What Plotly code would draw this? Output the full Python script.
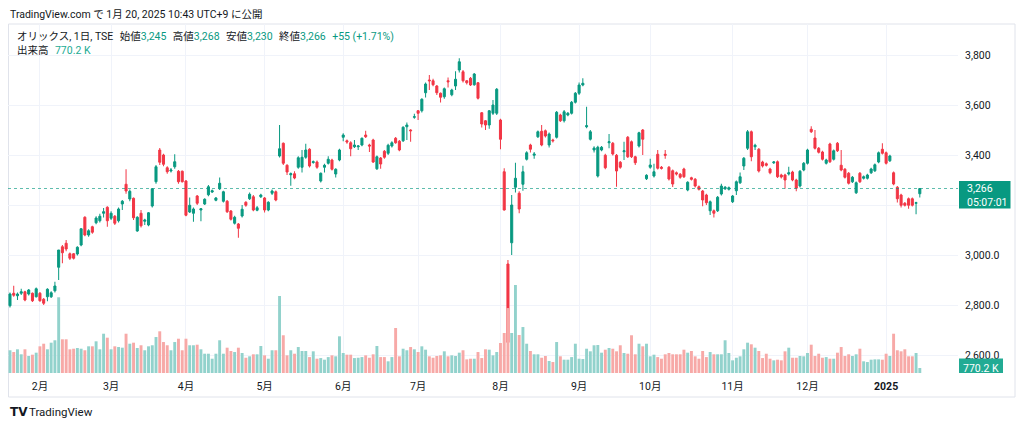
import pandas as pd
import plotly.graph_objects as go

# ---------------- data ----------------
START_DATE = "2024-01-22"
END_DATE = "2025-01-20"
HOLIDAYS = ["2024-02-12", "2024-02-23", "2024-03-20", "2024-04-29", "2024-05-03",
            "2024-05-06", "2024-07-15", "2024-08-12", "2024-09-16", "2024-09-23",
            "2024-10-14", "2024-11-04", "2024-12-31", "2025-01-01", "2025-01-02",
            "2025-01-03", "2025-01-13"]
MONTH_LABELS = ["2月", "3月", "4月", "5月", "6月", "7月", "8月", "9月", "10月",
                "11月", "12月", "<b>2025</b>"]

OPEN = [2797, 2847, 2837, 2847, 2853, 2844, 2847, 2833, 2847, 2823,
        2833, 2833, 2857, 2951, 3033, 3047, 3005, 3005, 3004, 3040,
        3151, 3080, 3113, 3129, 3137, 3167, 3191, 3147, 3155, 3137,
        3204, 3283, 3224, 3227, 3096, 3167, 3135, 3120, 3196, 3293,
        3420, 3400, 3349, 3336, 3353, 3335, 3335, 3296, 3172, 3167,
        3236, 3180, 3204, 3241, 3252, 3219, 3265, 3215, 3215, 3176,
        3127, 3124, 3156, 3211, 3225, 3233, 3179, 3233, 3228, 3180,
        3247, 3253, 3396, 3447, 3359, 3321, 3325, 3351, 3351, 3391,
        3423, 3370, 3372, 3296, 3351, 3367, 3380, 3324, 3380, 3471,
        3457, 3449, 3433, 3433, 3440, 3480, 3440, 3460, 3345, 3388,
        3415, 3407, 3436, 3467, 3455, 3457, 3513, 3500, 3551, 3577,
        3577, 3649, 3700, 3697, 3676, 3647, 3633, 3697, 3641, 3676,
        3740, 3733, 3697, 3707, 3681, 3689, 3569, 3537, 3520, 3567,
        3567, 3540, 3333, 2964, 3049, 3271, 3247, 3283, 3383, 3440,
        3399, 3473, 3495, 3497, 3440, 3460, 3471, 3560, 3537, 3560,
        3567, 3611, 3647, 3680, 3513, 3463, 3420, 3316, 3420, 3399,
        3449, 3447, 3399, 3371, 3413, 3471, 3453, 3393, 3436, 3500,
        3305, 3351, 3316, 3403, 3351, 3403, 3351, 3337, 3329, 3323,
        3344, 3260, 3309, 3303, 3273, 3256, 3240, 3177, 3177, 3177,
        3244, 3265, 3263, 3213, 3257, 3289, 3356, 3427, 3493, 3433,
        3423, 3372, 3365, 3344, 3369, 3373, 3320, 3320, 3324, 3332,
        3300, 3276, 3340, 3367, 3503, 3468, 3427, 3412, 3367, 3444,
        3383, 3447, 3359, 3343, 3327, 3293, 3249, 3327, 3307, 3307,
        3329, 3337, 3372, 3423, 3409, 3377, 3329, 3271, 3240, 3207,
        3225, 3225, 3207, 3245]

HIGH = [2850, 2877, 2850, 2865, 2857, 2864, 2850, 2870, 2852, 2828,
        2867, 2855, 2893, 3020, 3040, 3060, 3010, 3008, 3035, 3108,
        3155, 3103, 3117, 3155, 3165, 3188, 3195, 3175, 3160, 3190,
        3220, 3343, 3262, 3230, 3155, 3180, 3145, 3172, 3268, 3360,
        3428, 3405, 3355, 3348, 3403, 3340, 3338, 3300, 3230, 3190,
        3240, 3188, 3227, 3280, 3262, 3232, 3310, 3257, 3220, 3180,
        3157, 3128, 3200, 3215, 3250, 3240, 3196, 3245, 3232, 3215,
        3262, 3258, 3520, 3450, 3363, 3330, 3335, 3395, 3420, 3445,
        3427, 3378, 3378, 3330, 3365, 3395, 3385, 3347, 3425, 3487,
        3462, 3455, 3460, 3440, 3470, 3497, 3445, 3465, 3398, 3392,
        3420, 3445, 3455, 3472, 3460, 3515, 3530, 3503, 3565, 3580,
        3627, 3690, 3720, 3705, 3680, 3650, 3670, 3710, 3665, 3735,
        3787, 3740, 3700, 3712, 3728, 3692, 3572, 3540, 3580, 3620,
        3668, 3545, 3347, 2980, 3240, 3369, 3255, 3357, 3415, 3445,
        3412, 3498, 3520, 3502, 3490, 3465, 3576, 3565, 3580, 3572,
        3616, 3652, 3690, 3707, 3593, 3500, 3435, 3437, 3436, 3405,
        3484, 3452, 3404, 3376, 3453, 3476, 3458, 3397, 3493, 3504,
        3323, 3385, 3365, 3420, 3356, 3420, 3356, 3342, 3334, 3328,
        3349, 3295, 3313, 3308, 3278, 3260, 3245, 3218, 3182, 3236,
        3285, 3276, 3274, 3240, 3298, 3330, 3392, 3500, 3498, 3445,
        3428, 3377, 3370, 3349, 3376, 3378, 3325, 3325, 3353, 3337,
        3305, 3340, 3372, 3425, 3515, 3500, 3432, 3417, 3385, 3449,
        3422, 3452, 3420, 3348, 3332, 3316, 3294, 3332, 3318, 3325,
        3349, 3366, 3414, 3447, 3414, 3401, 3334, 3276, 3245, 3212,
        3230, 3230, 3213, 3268]

LOW = [2790, 2833, 2820, 2840, 2815, 2838, 2812, 2830, 2813, 2800,
       2815, 2828, 2850, 2900, 2967, 3015, 2980, 2982, 2998, 3035,
       3075, 3073, 3085, 3123, 3130, 3150, 3113, 3140, 3120, 3130,
       3180, 3245, 3215, 3140, 3093, 3110, 3120, 3115, 3190, 3285,
       3360, 3355, 3325, 3330, 3345, 3285, 3290, 3155, 3168, 3133,
       3200, 3135, 3200, 3235, 3248, 3215, 3260, 3210, 3168, 3138,
       3122, 3069, 3150, 3193, 3220, 3175, 3175, 3228, 3170, 3175,
       3240, 3215, 3390, 3360, 3320, 3277, 3303, 3345, 3330, 3385,
       3350, 3365, 3345, 3290, 3330, 3362, 3338, 3310, 3375, 3455,
       3445, 3395, 3428, 3420, 3435, 3468, 3412, 3368, 3340, 3345,
       3385, 3400, 3430, 3445, 3415, 3452, 3460, 3453, 3545, 3540,
       3570, 3630, 3660, 3675, 3640, 3610, 3625, 3670, 3635, 3660,
       3730, 3690, 3682, 3676, 3677, 3622, 3510, 3500, 3505, 3560,
       3560, 3423, 3178, 2640, 3000, 3250, 3167, 3257, 3378, 3410,
       3385, 3468, 3435, 3470, 3430, 3450, 3466, 3532, 3530, 3555,
       3562, 3606, 3640, 3675, 3507, 3458, 3410, 3310, 3415, 3343,
       3427, 3398, 3273, 3345, 3380, 3388, 3388, 3360, 3430, 3400,
       3300, 3345, 3310, 3342, 3342, 3385, 3298, 3272, 3318, 3305,
       3308, 3255, 3298, 3270, 3258, 3195, 3200, 3160, 3150, 3172,
       3238, 3260, 3258, 3208, 3240, 3284, 3340, 3420, 3375, 3420,
       3330, 3350, 3354, 3323, 3364, 3308, 3306, 3265, 3318, 3295,
       3255, 3270, 3335, 3362, 3488, 3422, 3406, 3378, 3362, 3368,
       3378, 3412, 3335, 3306, 3282, 3288, 3244, 3288, 3302, 3302,
       3324, 3332, 3367, 3402, 3362, 3372, 3279, 3210, 3190, 3194,
       3185, 3194, 3163, 3230]

CLOSE = [2844, 2839, 2844, 2853, 2820, 2860, 2817, 2865, 2817, 2807,
         2863, 2849, 2876, 3020, 3009, 3024, 2987, 2987, 3031, 3105,
         3080, 3097, 3091, 3148, 3155, 3173, 3137, 3167, 3127, 3184,
         3215, 3256, 3255, 3149, 3151, 3117, 3140, 3169, 3265, 3353,
         3371, 3363, 3333, 3340, 3373, 3293, 3293, 3159, 3199, 3184,
         3207, 3185, 3223, 3273, 3257, 3228, 3287, 3253, 3173, 3143,
         3151, 3107, 3183, 3199, 3243, 3180, 3189, 3240, 3180, 3211,
         3256, 3220, 3425, 3367, 3332, 3325, 3308, 3389, 3391, 3420,
         3356, 3373, 3351, 3327, 3359, 3383, 3343, 3343, 3420, 3480,
         3452, 3425, 3440, 3436, 3467, 3473, 3436, 3372, 3393, 3364,
         3391, 3439, 3449, 3449, 3420, 3511, 3520, 3497, 3553, 3567,
         3623, 3684, 3697, 3681, 3649, 3631, 3665, 3693, 3660, 3703,
         3773, 3697, 3689, 3680, 3724, 3627, 3524, 3520, 3577, 3600,
         3663, 3463, 3180, 2650, 3200, 3307, 3184, 3333, 3409, 3423,
         3404, 3493, 3440, 3476, 3484, 3457, 3571, 3537, 3573, 3567,
         3611, 3647, 3680, 3687, 3517, 3493, 3428, 3431, 3431, 3349,
         3453, 3404, 3336, 3351, 3417, 3393, 3393, 3369, 3489, 3463,
         3319, 3360, 3333, 3347, 3347, 3399, 3304, 3284, 3324, 3311,
         3313, 3291, 3303, 3276, 3263, 3220, 3209, 3213, 3167, 3231,
         3276, 3271, 3269, 3236, 3293, 3313, 3387, 3493, 3393, 3439,
         3336, 3356, 3359, 3329, 3372, 3313, 3312, 3300, 3329, 3300,
         3267, 3335, 3367, 3420, 3493, 3427, 3411, 3383, 3380, 3373,
         3417, 3417, 3340, 3311, 3287, 3311, 3289, 3293, 3313, 3320,
         3344, 3361, 3409, 3407, 3367, 3396, 3284, 3225, 3199, 3199,
         3199, 3199, 3209, 3266]

VOLUME_K = [3500, 3230, 3650, 2880, 3650, 2620, 2820, 3130, 4110, 4510,
            3650, 4670, 5040, 11660, 5190, 5190, 3650, 3740, 3850, 3740,
            3500, 4110, 4110, 4880, 3650, 6050, 5440, 3650, 4110, 4000,
            3900, 6050, 4510, 4670, 3850, 4270, 3500, 4110, 4270, 5540,
            6420, 4770, 4270, 3500, 4770, 5280, 3500, 5280, 4270, 4270,
            4360, 3650, 2970, 2970, 2200, 2970, 5040, 2970, 3900, 3390,
            3230, 3900, 3080, 2350, 2570, 2880, 2880, 4160, 2720, 2200,
            3500, 3500, 11860, 5810, 2720, 3500, 2970, 4000, 3390, 3390,
            2450, 3340, 2200, 2300, 2050, 2450, 2720, 2570, 5650, 3080,
            2820, 2820, 2300, 2350, 2450, 2720, 2350, 2880, 4160, 2450,
            2450, 1800, 2450, 6930, 2570, 3740, 3500, 4000, 3650, 3230,
            4110, 3590, 2570, 2350, 2620, 2720, 3340, 2570, 2720, 2620,
            3130, 3500, 2100, 2200, 2200, 3230, 2300, 3650, 3590, 2720,
            3230, 4620, 6160, 10000, 6160, 13550, 5850, 7080, 4510, 3390,
            2880, 2880, 2350, 2620, 1850, 1690, 4770, 2570, 2050, 2050,
            2450, 4510, 2200, 2150, 3740, 3340, 4270, 4310, 3130, 3590,
            3850, 3740, 3340, 4270, 3080, 2970, 5810, 2880, 4510, 4110,
            4510, 2570, 2820, 2450, 2200, 2880, 3080, 2880, 2880, 2880,
            3590, 3130, 3390, 2570, 2200, 3390, 2450, 3230, 2880, 2880,
            2880, 5040, 3080, 1950, 2350, 2570, 3650, 4670, 4420, 3900,
            3390, 2300, 2970, 2200, 1950, 2050, 1950, 3340, 3900, 2350,
            2350, 2620, 2570, 3080, 4360, 2620, 2970, 2350, 2450, 2200,
            2200, 3130, 4000, 2620, 2880, 2620, 2880, 3740, 1800, 1690,
            2050, 2100, 2100, 2050, 2970, 2620, 6050, 3500, 3340, 3650,
            2570, 2570, 3080, 770.2]

LAST_PRICE_TEXT = "3,266"
COUNTDOWN_TEXT = "05:07:01"
LAST_VOLUME_TEXT = "770.2 K"
PRICE_TICKS = [2600, 2800, 3000, 3200, 3400, 3600, 3800]
PRICE_TICK_TEXT = ["2,600.0", "2,800.0", "3,000.0", "", "3,400", "3,600", "3,800"]

# ---------------- derived ----------------
days = [d.strftime("%Y-%m-%d") for d in pd.bdate_range(START_DATE, END_DATE)]
X = [d for d in days if d not in HOLIDAYS]
assert len(X) == len(OPEN) == len(CLOSE) == len(HIGH) == len(LOW) == len(VOLUME_K)

month_ticks = []
for k in range(1, len(X)):
    if X[k][:7] != X[k - 1][:7]:
        month_ticks.append(X[k])

UP = "#089981"
DOWN = "#F23645"
VOL_UP = "#92D2CC"
VOL_DOWN = "#F7A9A7"
vol_colors = [VOL_UP if c >= o else VOL_DOWN for o, c in zip(OPEN, CLOSE)]

FONT = "Roboto, 'Noto Sans CJK JP', sans-serif"
TXT = "#131722"
GRID = "#f0f3fa"

# The page body adds an 8px margin, so the figure sits at page (8, 8).
OFF = 8
FIG_W, FIG_H = 1024 - 2 * OFF, 427 - 2 * OFF
# plot area in page pixels
PL, PR, PT, PB = 8, 958, 24, 373


def px_x(px):
    return (px - PL) / (PR - PL)


def px_y(py):
    return (PB - py) / (PB - PT)


fig = go.Figure()
fig.add_trace(go.Bar(
    x=X, y=[v * 1000 for v in VOLUME_K], marker=dict(color=vol_colors, line=dict(width=0)),
    width=0.78, yaxis="y2", hoverinfo="skip"))
fig.add_trace(go.Candlestick(
    x=X, open=OPEN, high=HIGH, low=LOW, close=CLOSE,
    increasing=dict(line=dict(color=UP, width=1), fillcolor=UP),
    decreasing=dict(line=dict(color=DOWN, width=1), fillcolor=DOWN),
    whiskerwidth=0, yaxis="y"))

last_close = CLOSE[-1]
last_vol = VOLUME_K[-1] * 1000

shapes = [
    # frame
    dict(type="rect", xref="paper", yref="paper", x0=px_x(8.5), x1=px_x(1015),
         y0=px_y(397), y1=px_y(24), line=dict(color="#e0e3eb", width=1), layer="below"),
    # last price dotted line
    dict(type="line", xref="paper", yref="y", x0=0, x1=1, y0=last_close, y1=last_close,
         line=dict(color="rgba(8,153,129,0.65)", width=1, dash="dot"), layer="above"),
    # last price box
    dict(type="rect", xref="paper", yref="y", x0=px_x(959), x1=px_x(1010.5),
         ysizemode="pixel", yanchor=last_close, y0=-20, y1=7.5,
         fillcolor=UP, line=dict(width=0), layer="above"),
    # volume box
    dict(type="rect", xref="paper", yref="y2", x0=px_x(959), x1=px_x(1003),
         ysizemode="pixel", yanchor=last_vol, y0=-9.5, y1=9.5,
         fillcolor="#22AB94", line=dict(width=0), layer="above"),
]

teal = "#089981"
GAP = "\u2002\u200a"


def tv(s):
    return f"<span style='color:{teal}'>{s}</span>"


legend_line = ("オリックス, 1日, TSE" + GAP + "始値" + tv("3,245") + GAP + "高値" + tv("3,268") +
               GAP + "安値" + tv("3,230") + GAP + "終値" + tv("3,266") + GAP +
               tv("+55 (+1.71%)"))

annotations = [
    dict(text="TradingView.com で 1月 20, 2025 10:43 UTC+9 に公開", xref="paper", yref="paper",
         x=px_x(8), y=px_y(14), xanchor="left", yanchor="middle", showarrow=False,
         font=dict(family=FONT, size=10.5, color=TXT)),
    dict(text=legend_line, xref="paper", yref="paper",
         x=px_x(15), y=px_y(36.5), xanchor="left", yanchor="middle", showarrow=False,
         font=dict(family=FONT, size=10.5, color=TXT)),
    dict(text="出来高" + GAP + "<span style='color:#22AB94'>" + LAST_VOLUME_TEXT + "</span>",
         xref="paper", yref="paper",
         x=px_x(15), y=px_y(51), xanchor="left", yanchor="middle", showarrow=False,
         font=dict(family=FONT, size=10.5, color=TXT)),
    dict(text=LAST_PRICE_TEXT, xref="paper", yref="y", x=px_x(965), y=last_close,
         xanchor="left", yanchor="middle", showarrow=False,
         font=dict(family=FONT, size=10.5, color="white")),
    dict(text=COUNTDOWN_TEXT, xref="paper", yref="y", x=px_x(965), y=last_close, yshift=-14,
         xanchor="left", yanchor="middle", showarrow=False,
         font=dict(family=FONT, size=10.5, color="white")),
    dict(text=LAST_VOLUME_TEXT, xref="paper", yref="y2", x=px_x(981), y=last_vol,
         xanchor="center", yanchor="middle", showarrow=False,
         font=dict(family=FONT, size=10.5, color="white")),
    dict(text="<b>TV</b>", xref="paper", yref="paper", x=px_x(8), y=px_y(412),
         xanchor="left", yanchor="middle", showarrow=False,
         font=dict(family="DejaVu Sans", size=12, color="#131722")),
    dict(text="TradingView", xref="paper", yref="paper", x=px_x(27), y=px_y(412),
         xanchor="left", yanchor="middle", showarrow=False,
         font=dict(family=FONT, size=11.5, color="#131722")),
]

fig.update_layout(
    width=FIG_W, height=FIG_H,
    margin=dict(l=PL - OFF, r=FIG_W - (PR - OFF), t=PT - OFF, b=FIG_H - (PB - OFF)),
    paper_bgcolor="white", plot_bgcolor="white",
    showlegend=False, boxgap=0.22, bargap=0.2,
    font=dict(family=FONT, size=10.5, color=TXT),
    xaxis=dict(type="category", range=[-0.53, 253.2], rangeslider=dict(visible=False),
               tickmode="array", tickvals=month_ticks, ticktext=MONTH_LABELS,
               showgrid=True, gridcolor=GRID, gridwidth=1, ticks="", showline=False,
               zeroline=False, ticklabelstandoff=5, automargin=False,
               tickfont=dict(family=FONT, size=10.5, color=TXT)),
    yaxis=dict(side="right", range=[2528, 3924], tickmode="array", tickvals=PRICE_TICKS,
               ticktext=PRICE_TICK_TEXT, showgrid=True, gridcolor=GRID, gridwidth=1,
               ticks="", showline=False, zeroline=False, ticklabelstandoff=6,
               automargin=False, tickfont=dict(family=FONT, size=10.5, color=TXT)),
    yaxis2=dict(overlaying="y", range=[0, 53746000], visible=False, showgrid=False),
    shapes=shapes, annotations=annotations,
)

fig.write_html("out.html")
